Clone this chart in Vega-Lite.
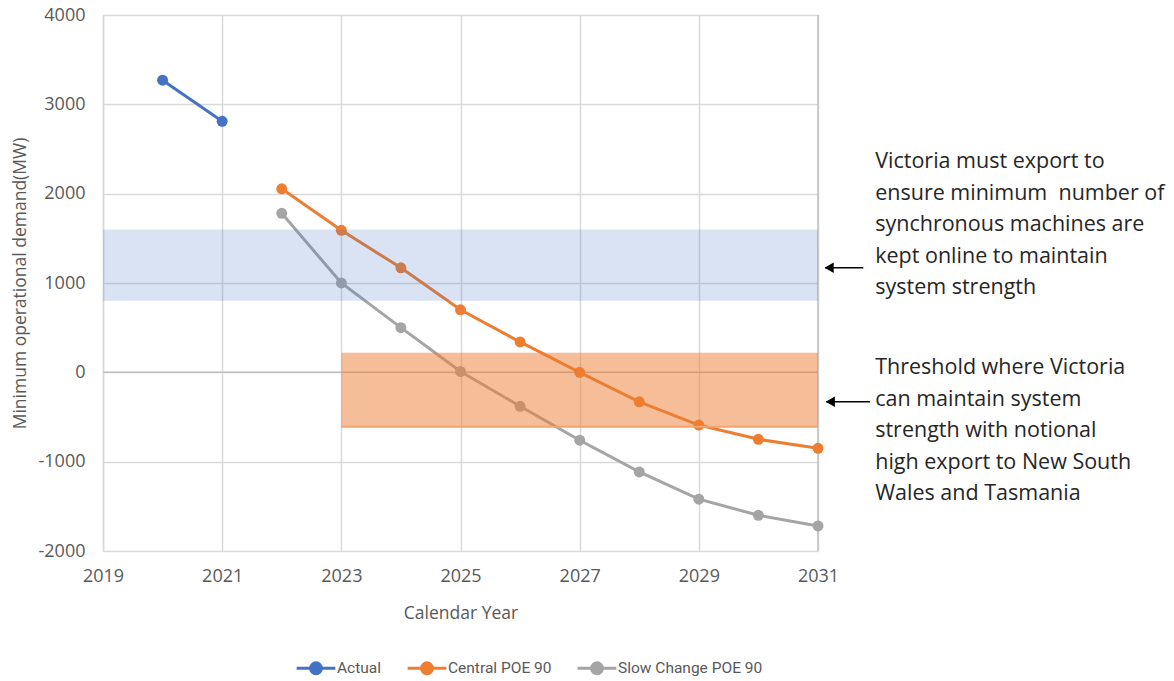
{
  "$schema": "https://vega.github.io/schema/vega-lite/v6.json",
  "width": 715,
  "height": 536,
  "autosize": "none",
  "padding": {"left": 103, "top": 15, "right": 356, "bottom": 130},
  "background": "white",
  "config": {
    "font": "Open Sans",
    "view": {"stroke": null},
    "axis": {
      "gridColor": "#D9D9D9",
      "gridWidth": 1.5,
      "domain": false,
      "ticks": false,
      "labelFontSize": 18,
      "labelColor": "#595959",
      "labelFlush": false,
      "titleFontSize": 17.5,
      "titleFontWeight": "normal",
      "titleColor": "#595959"
    }
  },
  "datasets": {
    "series": [
      {"year": 2020, "value": 3270, "series": "Actual"},
      {"year": 2021, "value": 2810, "series": "Actual"},
      {"year": 2022, "value": 2055, "series": "Central POE 90"},
      {"year": 2023, "value": 1590, "series": "Central POE 90"},
      {"year": 2024, "value": 1170, "series": "Central POE 90"},
      {"year": 2025, "value": 700, "series": "Central POE 90"},
      {"year": 2026, "value": 340, "series": "Central POE 90"},
      {"year": 2027, "value": 0, "series": "Central POE 90"},
      {"year": 2028, "value": -330, "series": "Central POE 90"},
      {"year": 2029, "value": -590, "series": "Central POE 90"},
      {"year": 2030, "value": -750, "series": "Central POE 90"},
      {"year": 2031, "value": -850, "series": "Central POE 90"},
      {"year": 2022, "value": 1780, "series": "Slow Change POE 90"},
      {"year": 2023, "value": 1000, "series": "Slow Change POE 90"},
      {"year": 2024, "value": 500, "series": "Slow Change POE 90"},
      {"year": 2025, "value": 10, "series": "Slow Change POE 90"},
      {"year": 2026, "value": -380, "series": "Slow Change POE 90"},
      {"year": 2027, "value": -760, "series": "Slow Change POE 90"},
      {"year": 2028, "value": -1115, "series": "Slow Change POE 90"},
      {"year": 2029, "value": -1420, "series": "Slow Change POE 90"},
      {"year": 2030, "value": -1600, "series": "Slow Change POE 90"},
      {"year": 2031, "value": -1720, "series": "Slow Change POE 90"}
    ],
    "bands": [
      {"x1": 2019, "x2": 2031, "y1": 800, "y2": 1600, "band": "export"},
      {"x1": 2023, "x2": 2031, "y1": -610, "y2": 220, "band": "threshold"}
    ],
    "arrows": [
      {"x1": 2031.12, "x2": 2031.76, "y": 1170},
      {"x1": 2031.14, "x2": 2031.87, "y": -330}
    ],
    "notes": [
      {"x": 2031.96, "y": 2354, "label": "Victoria must export to\nensure minimum\u00a0 number of\nsynchronous machines are\nkept online to maintain\nsystem strength"},
      {"x": 2031.96, "y": 48, "label": "Threshold where Victoria\ncan maintain system\nstrength with notional\nhigh export to New South\nWales and Tasmania"}
    ]
  },
  "layer": [
    {
      "data": {"values": [{"y": 0}]},
      "mark": {"type": "rule", "color": "#BFBFBF", "strokeWidth": 1.5},
      "encoding": {"y": {"field": "y", "type": "quantitative", "scale": {"domain": [-2000, 4000]}}}
    },
    {
      "data": {"values": [{"x": 2031}]},
      "mark": {"type": "rule", "color": "#C8C8C8", "strokeWidth": 1.8},
      "encoding": {"x": {"field": "x", "type": "quantitative"}}
    },
    {
      "data": {"name": "series"},
      "mark": {"type": "line", "strokeWidth": 3, "point": {"filled": true, "size": 120}},
      "encoding": {
        "x": {
          "field": "year", "type": "quantitative",
          "scale": {"domain": [2019, 2031], "nice": false, "zero": false},
          "axis": {"values": [2019, 2021, 2023, 2025, 2027, 2029, 2031], "format": "d", "labelPadding": 16, "title": "Calendar Year", "titlePadding": 19, "grid": true}
        },
        "y": {
          "field": "value", "type": "quantitative",
          "scale": {"domain": [-2000, 4000], "nice": false},
          "axis": {"values": [-2000, -1000, 0, 1000, 2000, 3000, 4000], "labelExpr": "'' + datum.value", "labelPadding": 18, "title": "Minimum operational demand(MW)", "titlePadding": 9, "grid": true, "domain": true, "domainColor": "#D9D9D9", "domainWidth": 1.5}
        },
        "color": {
          "field": "series", "type": "nominal",
          "scale": {"domain": ["Actual", "Central POE 90", "Slow Change POE 90"], "range": ["#4472C4", "#ED7D31", "#A5A5A5"]},
          "legend": {
            "title": null,
            "orient": "none",
            "direction": "horizontal",
            "legendX": 192,
            "legendY": 632,
            "symbolType": "M-1,0L1,0M-0.28,0A0.28,0.28,0,1,0,0.28,0A0.28,0.28,0,1,0,-0.28,0Z",
            "symbolSize": 1500,
            "symbolStrokeWidth": 3,
            "labelFont": "Roboto",
            "labelFontSize": 15.5,
            "labelColor": "#595959",
            "labelOffset": 0,
            "labelLimit": 400,
            "columnPadding": 19,
            "encode": {"symbols": {"update": {"fill": {"scale": "color", "field": "value"}, "stroke": {"scale": "color", "field": "value"}, "opacity": {"value": 1}}}}
          }
        }
      }
    },
    {
      "data": {"name": "bands"},
      "mark": {"type": "rect"},
      "encoding": {
        "x": {"field": "x1", "type": "quantitative"},
        "x2": {"field": "x2"},
        "y": {"field": "y1", "type": "quantitative"},
        "y2": {"field": "y2"},
        "fill": {"field": "band", "type": "nominal", "scale": {"domain": ["export", "threshold"], "range": ["#4472C4", "#ED7D31"]}, "legend": null},
        "opacity": {"field": "band", "type": "nominal", "scale": {"domain": ["export", "threshold"], "range": [0.2, 0.5]}, "legend": null}
      }
    },
    {
      "data": {"values": [{"x1": 2023, "x2": 2031, "y": -610}]},
      "mark": {"type": "rule", "color": "#F4A36C", "strokeWidth": 2},
      "encoding": {
        "x": {"field": "x1", "type": "quantitative"},
        "x2": {"field": "x2"},
        "y": {"field": "y", "type": "quantitative"}
      }
    },
    {
      "data": {"name": "arrows"},
      "mark": {"type": "rule", "color": "black", "strokeWidth": 1.4},
      "encoding": {
        "x": {"field": "x1", "type": "quantitative"},
        "x2": {"field": "x2"},
        "y": {"field": "y", "type": "quantitative"}
      }
    },
    {
      "data": {"name": "arrows"},
      "mark": {"type": "point", "shape": "triangle-left", "filled": true, "color": "black", "size": 110, "opacity": 1, "xOffset": 4},
      "encoding": {
        "x": {"field": "x1", "type": "quantitative"},
        "y": {"field": "y", "type": "quantitative"}
      }
    },
    {
      "data": {"name": "notes"},
      "mark": {"type": "text", "align": "left", "baseline": "middle", "fontSize": 21.5, "lineHeight": 31.5, "lineBreak": "\n", "color": "#262626"},
      "encoding": {
        "x": {"field": "x", "type": "quantitative"},
        "y": {"field": "y", "type": "quantitative"},
        "text": {"field": "label"}
      }
    }
  ]
}
